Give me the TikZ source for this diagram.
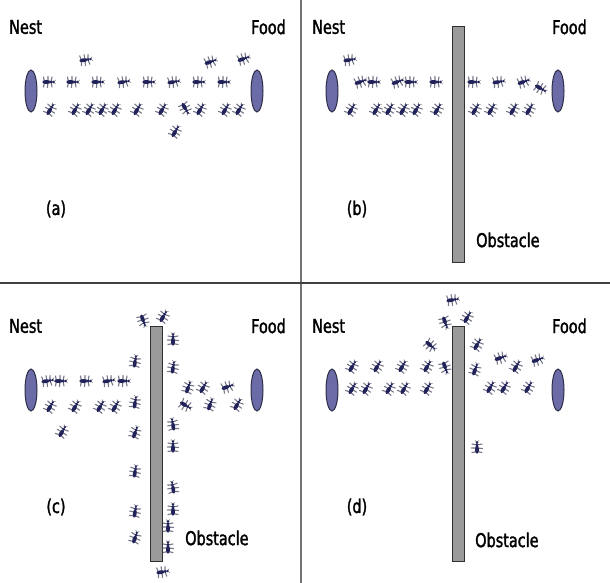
\documentclass[tikz,border=0pt]{standalone}
\usepackage{fontspec}
\newfontfamily\lblfont[FakeStretch=0.76,FakeBold=1.6]{DejaVu Sans}
\usetikzlibrary{shapes.geometric}
\definecolor{sitefill}{HTML}{6B6BA8}
\definecolor{siteedge}{HTML}{2E2E48}
\definecolor{obstfill}{HTML}{9A9A9A}
\definecolor{obstedge}{HTML}{303030}
\definecolor{antbody}{HTML}{22225A}
\definecolor{antleg}{HTML}{3E3E5A}
\begin{document}
\begin{tikzpicture}[x=1pt,y=-1pt,
  lbl/.style={font=\lblfont\fontsize{19}{19}\selectfont, inner sep=0pt},
  site/.style={ellipse, draw=siteedge, fill=sitefill, line width=1pt,
               minimum width=12pt, minimum height=42pt, inner sep=0pt},
  wall/.style={rectangle, draw=obstedge, fill=obstfill, line width=1pt,
               minimum width=12pt, minimum height=235pt, inner sep=0pt},
  ant/.pic={
    \draw[antleg, line width=1.1pt, line cap=round, opacity=0.7]
      (-3.5,0)--(-4.5,-5) (0,0)--(0,-5.5) (3,0)--(4,-5)
      (-3.5,0)--(-4.5,5) (0,0)--(-0.5,5.5) (3,0)--(4,5);
    \fill[antbody] (-1.5,0) ellipse (4.2 and 2);
    \fill[antbody] (3.2,0) circle (1.6);
    \fill[antbody] (5.5,0) circle (1.3);
    \draw[antleg, line width=0.6pt, opacity=0.7] (6,0)--(7.5,-2) (6,0)--(7.5,2);
  }]
\useasboundingbox (0,0) rectangle (610,583);
\fill[white] (0,0) rectangle (610,583);

% panel dividers
\draw[black!55, line width=1.8pt] (301,0) -- (301,583);
\draw[black!75, line width=2.6pt] (0,283) -- (610,283);

% ---------- panel (a) ----------
\node[lbl, anchor=west] (nestA) at (9,27) {Nest};
\node[lbl, anchor=east] (foodA) at (286,27) {Food};
\node[site] (nA) at (31,91) {};
\node[site] (fA) at (257,91) {};
\node[lbl] (capA) at (56,209) {(a)};
\foreach \x/\y/\a in {48/82/0,72/82/0,97/82/0,123/82/10,148/82/0,173/82/10,198/82/0,223/82/0,
  85/60/10,210/62/20,243/59/20,
  50/110/60,75/110/60,89/110/60,102/110/60,115/110/60,137/110/60,162/110/60,185/108/-60,
  200/110/60,225/110/60,239/110/60,175/132/60}
  \pic[rotate=\a] at (\x,\y) {ant};

% ---------- panel (b) ----------
\node[lbl, anchor=west] (nestB) at (312,27) {Nest};
\node[lbl, anchor=east] (foodB) at (587,27) {Food};
\node[site] (nB) at (332,91) {};
\node[site] (fB) at (558,91) {};
\node[wall] (wB) at (458,144.5) {};
\node[lbl, anchor=west] (obsB) at (476,240) {Obstacle};
\node[lbl] (capB) at (357,209) {(b)};
\foreach \x/\y/\a in {349/60/10,360/82/20,373/82/0,397/82/20,410/82/0,435/82/0,473/82/0,
  498/82/10,523/82/20,540/88/-30,
  351/110/60,376/110/60,389/110/60,403/110/60,416/110/60,437/110/60,475/110/60,491/110/60,
  513/110/60,529/110/60}
  \pic[rotate=\a] at (\x,\y) {ant};

% ---------- panel (c) ----------
\node[lbl, anchor=west] (nestC) at (9,326) {Nest};
\node[lbl, anchor=east] (foodC) at (286,326) {Food};
\node[site] (nC) at (31,390) {};
\node[site] (fC) at (257,390) {};
\node[wall] (wC) at (156.5,444) {};
\node[lbl, anchor=west] (obsC) at (185,538) {Obstacle};
\node[lbl] (capC) at (56,507) {(c)};
\foreach \x/\y/\a in {47/381/10,60/381/0,85/381/0,108/381/10,123/381/0,
  50/407/60,75/407/60,100/407/60,115/407/60,135/403/80,62/432/60,
  135/362/80,135/433/70,135/472/80,135/512/80,135/538/70,143/320/-70,
  163/317/60,173/340/90,173/368/80,173/425/100,173/447/90,173/488/100,173/510/90,
  168/527/90,168/548/90,162/572/10,
  188/388/70,203/388/60,227/387/20,185/405/-30,210/405/70,237/405/60}
  \pic[rotate=\a] at (\x,\y) {ant};

% ---------- panel (d) ----------
\node[lbl, anchor=west] (nestD) at (312,326) {Nest};
\node[lbl, anchor=east] (foodD) at (587,326) {Food};
\node[site] (nD) at (332,390) {};
\node[site] (fD) at (558,390) {};
\node[wall] (wD) at (458,444) {};
\node[lbl, anchor=west] (obsD) at (475,540) {Obstacle};
\node[lbl] (capD) at (357,507) {(d)};
\foreach \x/\y/\a in {352/367/60,377/367/60,402/367/60,427/367/60,445/367/-70,
  352/389/60,366/389/60,389/389/60,404/389/60,427/389/60,
  430/345/-40,445/322/-70,452/300/10,467/318/60,
  477/345/60,475/370/70,500/358/20,516/367/60,537/360/20,
  490/388/60,504/388/60,528/388/60,477/448/90}
  \pic[rotate=\a] at (\x,\y) {ant};
\end{tikzpicture}
\end{document}
